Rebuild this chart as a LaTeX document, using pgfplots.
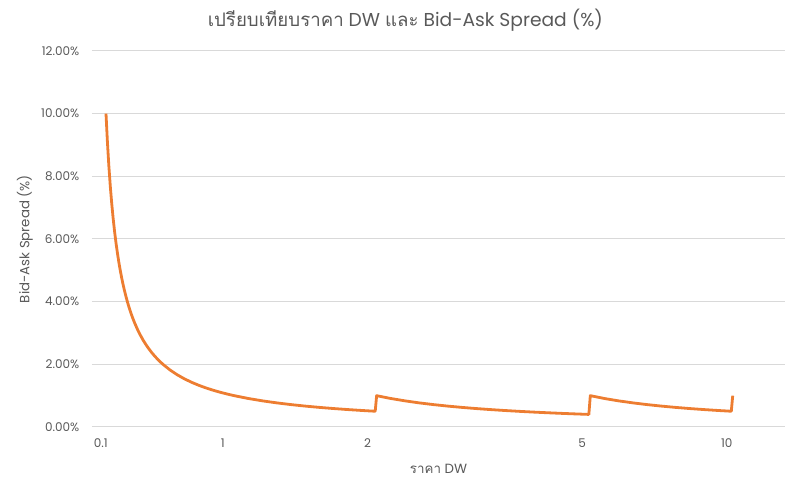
\documentclass[border=0pt]{standalone}
\usepackage{pgfplots}
\pgfplotsset{compat=1.18}
\usepackage{fontspec}
\setmainfont{Poppins}
\newfontfamily\thaifont[Script=Thai]{Loma}
\definecolor{txt}{HTML}{595959}
\definecolor{gridc}{HTML}{D9D9D9}
\definecolor{lineor}{HTML}{ED7D31}
\begin{document}
\begin{tikzpicture}[x=1pt,y=1pt]
\path[use as bounding box] (0,0) rectangle (608.25,369.75);
\node[text=txt,font=\fontsize{14}{16}\selectfont] at (304,354.5) {{\thaifont เปรียบเทียบราคา} DW {\thaifont และ} Bid-Ask Spread (\%)};
\begin{axis}[
  at={(69pt,49.5pt)}, anchor=south west,
  scale only axis, width=519.75pt, height=282pt,
  xmin=-9.83, xmax=476.7, ymin=0, ymax=12,
  axis line style={draw=none},
  ytick={0,2,4,6,8,10,12},
  yticklabels={0.00\%,2.00\%,4.00\%,6.00\%,8.00\%,10.00\%,12.00\%},
  xtick={-3.7,82,183.6,334.3,435.8},
  xticklabels={0.1,1,2,5,10},
  major tick length=0pt,
  ymajorgrids, grid style={gridc, line width=0.75pt},
  tick label style={text=txt, font=\fontsize{9}{10}\selectfont},
  yticklabel style={xshift=-6pt},
  xticklabel style={yshift=-5pt},
  xlabel={{\thaifont ราคา} DW},
  ylabel={Bid-Ask Spread (\%)},
  label style={text=txt, font=\fontsize{10}{12}\selectfont},
  xlabel style={at={(axis description cs:0.5,0)}, anchor=center, yshift=-31.5pt},
  ylabel style={at={(axis description cs:0,0.5)}, anchor=center, yshift=50.25pt},
  clip=false,
]
\addplot[lineor, line width=2.1pt, line join=round, mark=none] coordinates {
(0,10) (1,9.0909) (2,8.3333) (3,7.6923) (4,7.1429) (5,6.6667) (6,6.25) (7,5.8824) (8,5.5556) (9,5.2632)
(10,5) (11,4.7619) (12,4.5455) (13,4.3478) (14,4.1667) (15,4) (16,3.8462) (17,3.7037) (18,3.5714) (19,3.4483)
(20,3.3333) (22,3.125) (24,2.9412) (26,2.7778) (28,2.6316) (30,2.5) (32,2.381) (34,2.2727) (36,2.1739) (38,2.0833)
(40,2) (45,1.8182) (50,1.6667) (55,1.5385) (60,1.4286) (65,1.3333) (70,1.25) (75,1.1765) (80,1.1111) (85,1.0526)
(90,1) (100,0.9091) (110,0.8333) (120,0.7692) (130,0.7143) (140,0.6667) (150,0.625) (160,0.5882) (170,0.5556) (180,0.5263) (189,0.5025)
(190,1) (200,0.9091) (210,0.8333) (220,0.7692) (230,0.7143) (240,0.6667) (250,0.625) (260,0.5882) (270,0.5556) (280,0.5263)
(290,0.5) (300,0.4762) (310,0.4545) (320,0.4348) (330,0.4167) (339,0.4016)
(340,1) (350,0.9091) (360,0.8333) (370,0.7692) (380,0.7143) (390,0.6667) (400,0.625) (410,0.5882) (420,0.5556) (430,0.5263) (439,0.5025)
(440,1)
};
\end{axis}
\end{tikzpicture}
\end{document}
